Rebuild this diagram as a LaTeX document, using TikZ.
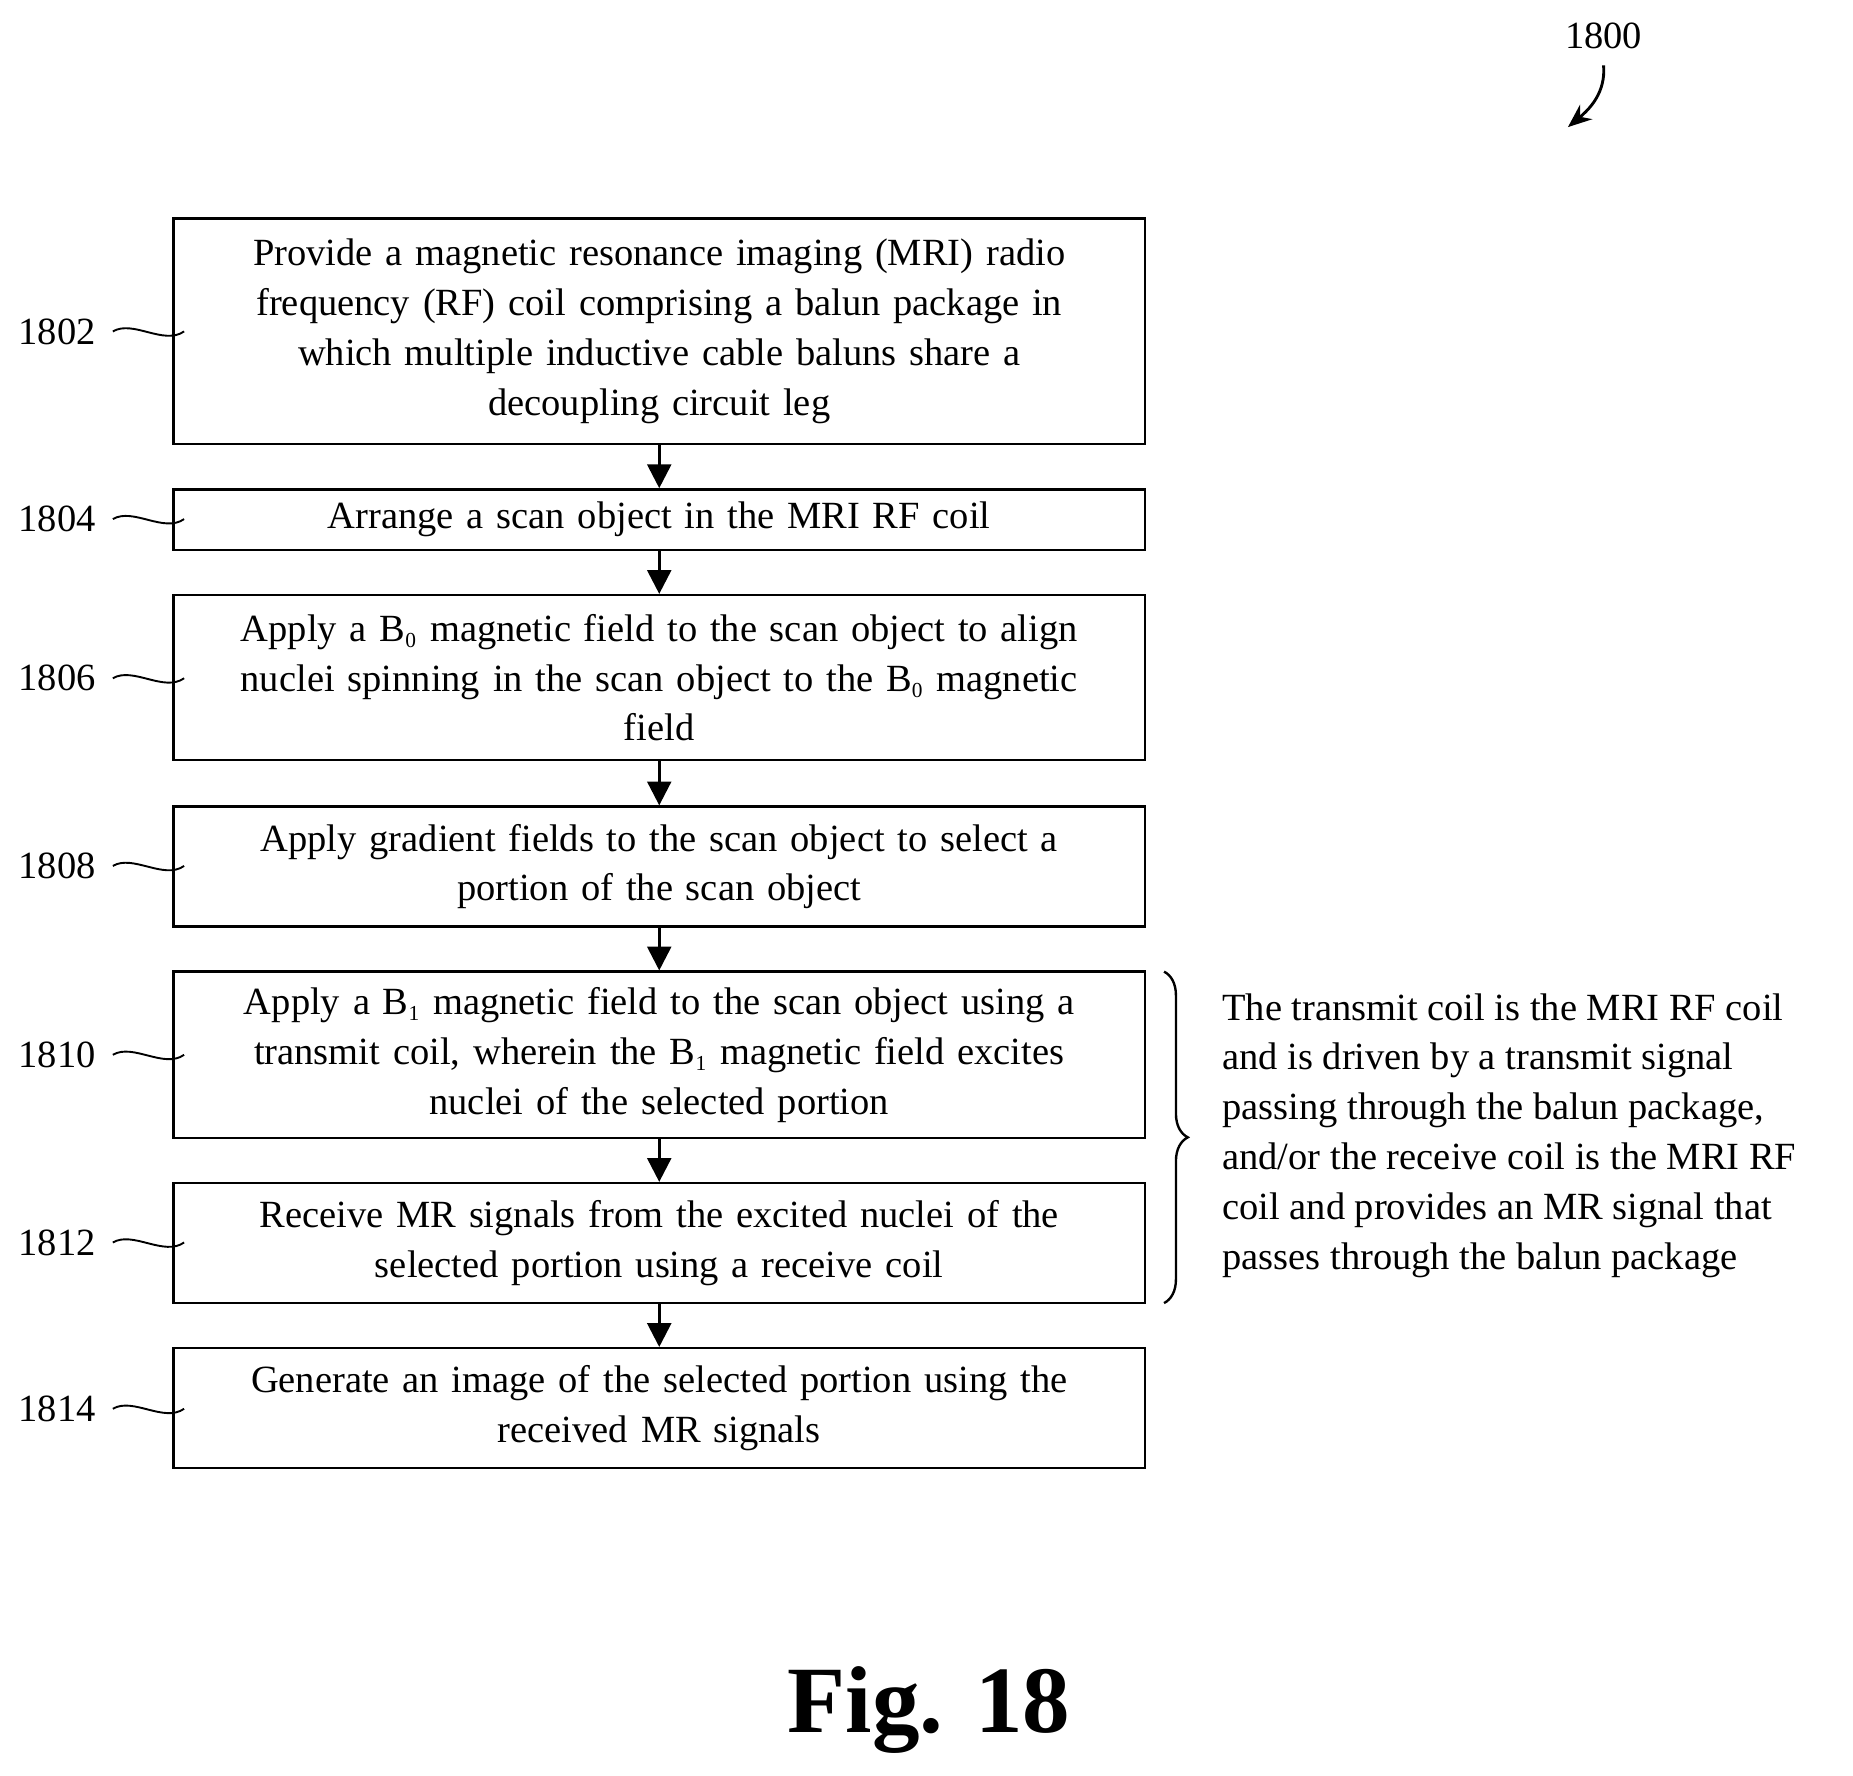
\documentclass[tikz,border=0pt]{standalone}
\usepackage{fontspec}
\setmainfont{Liberation Serif}
\usetikzlibrary{decorations.pathreplacing,arrows.meta}
\tikzset{
  stepbox/.style={draw,line width=1pt,minimum width=409pt,align=center,text width=405pt,inner sep=0pt,font=\fontsize{16.2}{21}\selectfont},
  lbl/.style={font=\fontsize{16.2}{18}\selectfont},
  flow/.style={-{Triangle[length=10pt,width=10pt]},line width=1.2pt},
}
\newcommand{\subsc}[1]{\textsubscript{\fontsize{9}{9}\selectfont #1}}
\begin{document}
\begin{tikzpicture}[x=0.5pt,y=-0.5pt]
\useasboundingbox (0,0) rectangle (1560,1495);

% Step boxes
\node[stepbox,minimum height=95pt] (s1802) at (555,279) {Provide a magnetic resonance imaging (MRI) radio\\frequency (RF) coil comprising a balun package in\\which multiple inductive cable baluns share a\\decoupling circuit leg};
\node[stepbox,minimum height=25.5pt] (s1804) at (555,437.5) {Arrange a scan object in the MRI RF coil};
\node[stepbox,minimum height=69.5pt] (s1806) at (555,570.5) {Apply a B\subsc{0} magnetic field to the scan object to align\\nuclei spinning in the scan object to the B\subsc{0} magnetic\\field};
\node[stepbox,minimum height=50.5pt] (s1808) at (555,729.5) {Apply gradient fields to the scan object to select a\\portion of the scan object};
\node[stepbox,minimum height=70pt] (s1810) at (555,888) {Apply a B\subsc{1} magnetic field to the scan object using a\\transmit coil, wherein the B\subsc{1} magnetic field excites\\nuclei of the selected portion};
\node[stepbox,minimum height=50.5pt] (s1812) at (555,1046.5) {Receive MR signals from the excited nuclei of the\\selected portion using a receive coil};
\node[stepbox,minimum height=50.5pt] (s1814) at (555,1185.5) {Generate an image of the selected portion using the\\received MR signals};

% Arrows
\foreach \a/\b in {1802/1804,1804/1806,1806/1808,1808/1810,1810/1812,1812/1814}
  \draw[flow] (s\a.south) -- (s\b.north);

% Reference labels
\foreach \n/\y in {1802/279,1804/437,1806/571,1808/729,1810/888,1812/1046,1814/1186}{
  \node[lbl] (l\n) at (48,\y) {\n};
  \draw[line width=0.8pt] (95,\y) .. controls (112,\y-10) and (138,\y+12) .. (155,\y);
}

% Brace and note
\draw[decorate,decoration={brace,amplitude=10pt},line width=1pt] (980,818) -- (980,1097);
\node[lbl,anchor=west,align=left,font=\fontsize{16.2}{21}\selectfont] (note) at (1022,956) {The transmit coil is the MRI RF coil\\and is driven by a transmit signal\\passing through the balun package,\\and/or the receive coil is the MRI RF\\coil and provides an MR signal that\\passes through the balun package};

% Figure number
\node[lbl] (n1800) at (1350,30) {1800};
\draw[-{Stealth[length=10pt,width=8pt]},line width=1.2pt] (1350,55) .. controls (1352,78) and (1338,92) .. (1320,107);
\node[font=\fontsize{40}{44}\bfseries] (fig) at (782,1440) {Fig. 18};
\end{tikzpicture}
\end{document}
